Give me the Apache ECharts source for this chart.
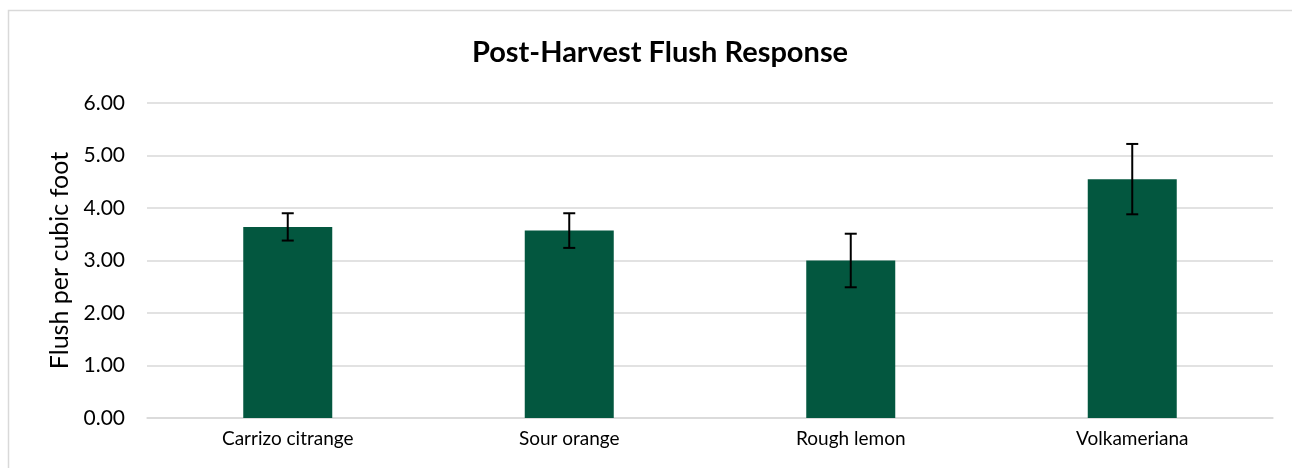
<!DOCTYPE html>
<html>
<head>
<meta charset="utf-8">
<script src="https://cdn.jsdelivr.net/npm/echarts@6/dist/echarts.min.js"></script>
<style>
  html, body { margin: 0; padding: 0; background: #fff; }
  #chart { width: 1292px; height: 468px; }
</style>
</head>
<body>
<div id="chart"></div>
<script>
// Rootstock categories and mean flush counts with their standard errors
const categories = ['Carrizo citrange', 'Sour orange', 'Rough lemon', 'Volkameriana'];
const meanFlush = [3.64, 3.57, 3.00, 4.55];
const errFlush = [0.26, 0.33, 0.51, 0.67];
const yTicks = [0, 1, 2, 3, 4, 5, 6];

const FONT = 'Lato, "Open Sans", sans-serif';

const errorData = categories.map((c, i) => [i, meanFlush[i] - errFlush[i], meanFlush[i] + errFlush[i]]);

const chart = echarts.init(document.getElementById('chart'));
chart.setOption({
  animation: false,
  backgroundColor: '#ffffff',
  title: {
    text: 'Post-Harvest Flush Response',
    left: 655,
    textAlign: 'center',
    top: 33,
    textStyle: { fontFamily: FONT, fontSize: 29, fontWeight: 'bold', color: '#000' }
  },
  graphic: [{
    type: 'rect',
    shape: { x: 8.5, y: 10.5, width: 1400, height: 600 },
    style: { fill: 'none', stroke: '#d9d9d9', lineWidth: 1.5 },
    silent: true
  }],
  grid: { left: 147, right: 19, top: 103, bottom: 50, containLabel: false },
  xAxis: {
    type: 'category',
    data: categories,
    axisLine: { show: true, lineStyle: { color: '#d9d9d9', width: 1.5 } },
    axisTick: { show: false },
    axisLabel: { fontFamily: FONT, fontSize: 19, color: '#000', margin: 11 }
  },
  yAxis: {
    type: 'value',
    min: yTicks[0],
    max: yTicks[yTicks.length - 1],
    interval: 1,
    name: 'Flush per cubic foot',
    nameLocation: 'middle',
    nameGap: 74,
    nameTextStyle: { fontFamily: FONT, fontSize: 25, color: '#000' },
    axisLine: { show: false },
    axisTick: { show: false },
    splitLine: { lineStyle: { color: '#d9d9d9', width: 1.5 } },
    axisLabel: {
      fontFamily: FONT, fontSize: 21, color: '#000', margin: 22,
      formatter: v => v.toFixed(2)
    }
  },
  series: [{
    type: 'bar',
    data: meanFlush,
    barWidth: 89,
    itemStyle: { color: '#03573F' }
  }, {
    type: 'custom',
    data: errorData,
    z: 10,
    renderItem: (params, api) => {
      const x = api.value(0);
      const lo = api.coord([x, api.value(1)]);
      const hi = api.coord([x, api.value(2)]);
      const cap = 6;
      const style = { stroke: '#000', lineWidth: 2 };
      return {
        type: 'group',
        children: [
          { type: 'line', shape: { x1: hi[0], y1: hi[1], x2: lo[0], y2: lo[1] }, style },
          { type: 'line', shape: { x1: hi[0] - cap, y1: hi[1], x2: hi[0] + cap, y2: hi[1] }, style },
          { type: 'line', shape: { x1: lo[0] - cap, y1: lo[1], x2: lo[0] + cap, y2: lo[1] }, style }
        ]
      };
    }
  }]
});
</script>
</body>
</html>
